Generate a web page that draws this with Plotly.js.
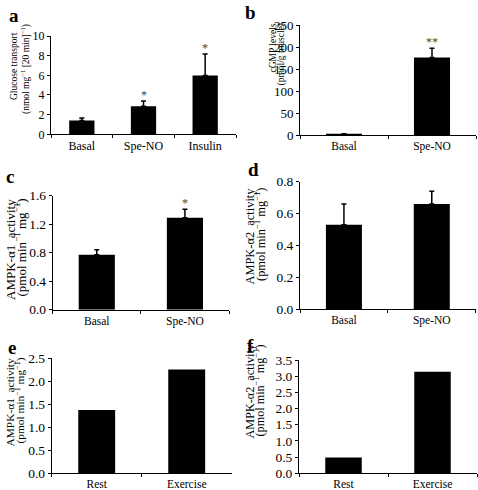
<!DOCTYPE html>
<html>
<head>
<meta charset="utf-8">
<script src="https://cdn.plot.ly/plotly-3.0.1.min.js"></script>
<style>html,body{margin:0;padding:0;background:#fff;}#chart{width:478px;height:490px;}</style>
</head>
<body>
<div id="chart"></div>
<script>
// ---- data ----
const catsA = ['Basal', 'Spe-NO', 'Insulin'];
const valsA = [1.4, 2.85, 5.97];
const errTopA = [1.65, 3.38, 8.17];
const sigA = ['', '*', '*'];

const catsB = ['Basal', 'Spe-NO'];
const valsB = [3, 176];
const errTopB = [3, 197];
const sigB = ['', '**'];

const catsC = ['Basal', 'Spe-NO'];
const valsC = [0.77, 1.29];
const errTopC = [0.84, 1.41];
const sigC = ['', '*'];

const catsD = ['Basal', 'Spe-NO'];
const valsD = [0.53, 0.66];
const errTopD = [0.66, 0.74];

const catsE = ['Rest', 'Exercise'];
const valsE = [1.37, 2.25];

const catsF = ['Rest', 'Exercise'];
const valsF = [0.49, 3.14];

const panelLetters = ['a', 'b', 'c', 'd', 'e', 'f'];
const yTitles = [
  ['Glucose transport', '(nmol mg<sup>−1</sup> [20 min]<sup>−1</sup>)'],
  ['cGMP levels', '(pmol/g muscle)'],
  ['AMPK-α1  activity', '(pmol min<sup>−1</sup> mg<sup>−1</sup>)'],
  ['AMPK-α2  activity', '(pmol min<sup>−1</sup> mg<sup>−1</sup>)'],
  ['AMPK-α1  activity', '(pmol min<sup>−1</sup> mg<sup>−1</sup>)'],
  ['AMPK-α2  activity', '(pmol min<sup>−1</sup> mg<sup>−1</sup>)']
];
const yRanges = [[0, 10], [0, 250], [0, 1.6], [0, 0.8], [0, 2.5], [0, 3.5]];
const yDticks = [2, 50, 0.4, 0.2, 0.5, 0.5];
const yFormats = ['', '', '.1f', '.1f', '.1f', '.1f'];

// ---- layout geometry (pixels) ----
const W = 478, H = 490;
const FONT = 'Liberation Serif, Times New Roman, serif';
const fx = p => p / W;
const fy = p => 1 - p / H;

const boxes = [
  {x: [51, 236], y: [36, 134.3]},
  {x: [300, 476], y: [25, 135]},
  {x: [52.7, 229], y: [195.7, 309.7]},
  {x: [300, 475.7], y: [181.7, 309.3]},
  {x: [51.7, 231.7], y: [358, 473.3]},
  {x: [299, 477], y: [360, 473.3]}
];
const tickFont = [12, 13, 13.5, 13.5, 13.5, 13.5];
const catFont = [12, 11.5, 11.5, 11.5, 11.5, 11.5];
const titleFont = [9.5, 9.5, 13, 12.4, 11.4, 12.2];
// per line: [x centre, y centre]
const titlePos = [
  [[14, 66], [25, 69]],
  [[272.5, 48], [281.5, 54]],
  [[10, 250], [21, 247.5]],
  [[249.5, 236], [260, 234]],
  [[9.5, 402], [19.5, 401]],
  [[249, 391.5], [258.5, 391]]
];
const letterPos = [[13.5, 15.5], [251, 12.5], [10, 176.5], [253, 170], [11.5, 347], [251, 345.5]];

const series = [
  {cats: catsA, vals: valsA, errTop: errTopA, sig: sigA},
  {cats: catsB, vals: valsB, errTop: errTopB, sig: sigB},
  {cats: catsC, vals: valsC, errTop: errTopC, sig: sigC},
  {cats: catsD, vals: valsD, errTop: errTopD, sig: null},
  {cats: catsE, vals: valsE, errTop: null, sig: null},
  {cats: catsF, vals: valsF, errTop: null, sig: null}
];

const traces = [];
const layout = {
  width: W, height: H,
  margin: {l: 0, r: 0, t: 0, b: 0},
  paper_bgcolor: '#fff', plot_bgcolor: '#fff',
  showlegend: false,
  font: {family: FONT, color: '#000'},
  annotations: []
};

series.forEach((s, i) => {
  const n = i === 0 ? '' : String(i + 1);
  const tr = {
    type: 'bar', x: s.cats, y: s.vals,
    xaxis: 'x' + n, yaxis: 'y' + n,
    width: 0.41,
    marker: {color: '#000', line: {width: 0}},
    hoverinfo: 'skip'
  };
  if (s.errTop) {
    tr.error_y = {
      type: 'data', symmetric: false,
      array: s.errTop.map((e, k) => e - s.vals[k]),
      arrayminus: s.vals.map(() => 0),
      color: '#000', thickness: 1.5, width: 2.5
    };
  }
  traces.push(tr);

  layout['xaxis' + n] = {
    domain: [fx(boxes[i].x[0]), fx(boxes[i].x[1])],
    anchor: 'y' + n, type: 'category',
    showline: true, linecolor: '#000', linewidth: 1,
    ticks: 'outside', tickson: 'boundaries', ticklen: 3, tickcolor: '#000', tickwidth: 1,
    showgrid: false, zeroline: false, fixedrange: true,
    tickfont: {family: FONT, size: catFont[i], color: '#000'}
  };
  layout['yaxis' + n] = {
    domain: [fy(boxes[i].y[1]), fy(boxes[i].y[0])],
    anchor: 'x' + n, range: yRanges[i], tick0: 0, dtick: yDticks[i],
    tickformat: yFormats[i],
    showline: true, linecolor: '#000', linewidth: 1,
    ticks: 'outside', ticklen: 3, tickcolor: '#000', tickwidth: 1,
    showgrid: false, zeroline: false, fixedrange: true,
    tickfont: {family: FONT, size: tickFont[i], color: '#000'}
  };

  // significance marks
  if (s.sig) {
    s.sig.forEach((t, k) => {
      if (!t) return;
      layout.annotations.push({
        xref: 'x' + n, yref: 'y' + n, x: s.cats[k], y: s.errTop[k],
        text: t, showarrow: false, yanchor: 'bottom', xanchor: 'center', yshift: -3,
        font: {family: FONT, size: 12, color: '#444'}
      });
    });
  }

  // y titles (two lines, rotated)
  titlePos[i].forEach((p, l) => {
    layout.annotations.push({
      xref: 'paper', yref: 'paper', x: fx(p[0]), y: fy(p[1]),
      text: yTitles[i][l], textangle: -90, showarrow: false,
      xanchor: 'center', yanchor: 'middle',
      font: {family: FONT, size: titleFont[i], color: '#000'}
    });
  });

  // panel letters
  layout.annotations.push({
    xref: 'paper', yref: 'paper', x: fx(letterPos[i][0]), y: fy(letterPos[i][1]),
    text: '<b>' + panelLetters[i] + '</b>', showarrow: false,
    xanchor: 'center', yanchor: 'middle',
    font: {family: FONT, size: 19, color: '#000'}
  });
});

Plotly.newPlot('chart', traces, layout, {displayModeBar: false, staticPlot: true});
</script>
</body>
</html>
